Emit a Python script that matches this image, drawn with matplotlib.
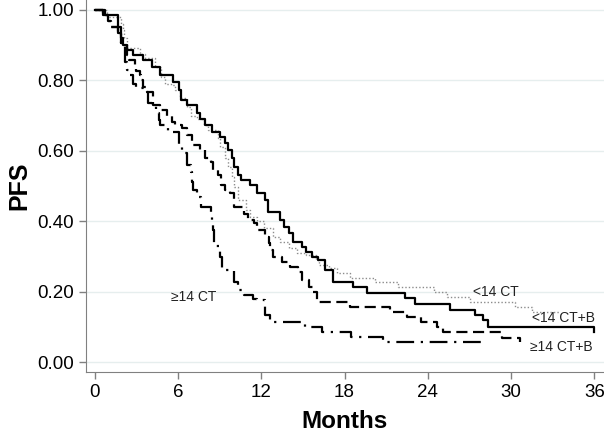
import matplotlib
matplotlib.use('Agg')
import matplotlib.pyplot as plt

plt.rcParams['font.family'] = ['Liberation Sans', 'DejaVu Sans']

# <14 CT+B (solid)
t_ctb = [0, 0.77, 1.68, 1.92, 2.01, 2.30, 2.78, 3.45, 4.12, 4.70, 5.65, 6.04,
         6.23, 6.61, 7.38, 7.57, 7.95, 8.43, 9.01, 9.39, 9.58, 9.87, 10.06,
         10.35, 10.54, 11.21, 11.69, 12.26, 12.46, 13.32, 13.61, 13.99, 14.28,
         14.95, 15.24, 15.62, 16.10, 16.58, 17.15, 18.59, 19.64, 22.33, 23.09,
         25.58, 27.40, 27.98, 28.36, 36.0]
s_ctb = [1.0, 0.985, 0.95, 0.92, 0.90, 0.886, 0.872, 0.858, 0.839, 0.815,
         0.796, 0.773, 0.744, 0.73, 0.706, 0.69, 0.673, 0.654, 0.64, 0.621,
         0.602, 0.579, 0.555, 0.531, 0.517, 0.503, 0.48, 0.46, 0.425, 0.403,
         0.384, 0.366, 0.342, 0.328, 0.313, 0.299, 0.29, 0.261, 0.228, 0.214,
         0.197, 0.182, 0.165, 0.148, 0.134, 0.12, 0.10, 0.085]

# <14 CT (dotted)
t_ct = [0, 0.86, 1.92, 2.01, 2.11, 2.30, 3.26, 3.64, 4.31, 4.79, 5.08, 5.56,
        5.75, 6.13, 6.61, 6.90, 7.38, 7.86, 8.14, 8.91, 9.01, 9.39, 9.58,
        9.87, 10.06, 10.35, 10.92, 11.21, 11.69, 12.17, 12.84, 13.32, 13.99,
        14.56, 15.24, 15.91, 16.19, 16.86, 17.44, 18.40, 20.22, 21.85, 24.43,
        25.39, 27.02, 30.28, 31.52, 33.54]
s_ct = [1.0, 0.98, 0.96, 0.943, 0.92, 0.891, 0.876, 0.862, 0.839, 0.81, 0.79,
        0.787, 0.773, 0.75, 0.725, 0.70, 0.69, 0.673, 0.659, 0.635, 0.612,
        0.579, 0.555, 0.526, 0.498, 0.46, 0.432, 0.413, 0.40, 0.38, 0.356,
        0.342, 0.323, 0.309, 0.304, 0.29, 0.276, 0.266, 0.252, 0.238, 0.228,
        0.214, 0.20, 0.186, 0.171, 0.155, 0.142, 0.142]

# >=14 CT+B (dashed)
t_hctb = [0, 0.57, 0.96, 1.20, 1.68, 1.92, 2.30, 2.49, 2.87, 2.97, 3.26, 3.35,
          3.45, 3.74, 4.22, 4.70, 5.17, 5.56, 5.75, 6.32, 6.61, 6.99, 7.57,
          7.95, 8.34, 8.53, 8.91, 9.10, 9.39, 9.77, 10.06, 10.73, 11.02, 11.50,
          11.69, 12.26, 12.55, 12.65, 12.84, 13.51, 14.09, 14.66, 14.95, 15.43,
          15.71, 16.00, 18.40, 21.27, 22.52, 23.48, 24.63, 25.10, 29.32, 30.66]
s_hctb = [1.0, 0.985, 0.967, 0.952, 0.935, 0.905, 0.872, 0.858, 0.844, 0.825,
          0.815, 0.80, 0.782, 0.768, 0.73, 0.716, 0.70, 0.683, 0.673, 0.664,
          0.645, 0.616, 0.602, 0.579, 0.569, 0.545, 0.531, 0.503, 0.489,
          0.479, 0.44, 0.42, 0.403, 0.394, 0.375, 0.356, 0.337, 0.318, 0.299,
          0.285, 0.271, 0.256, 0.233, 0.214, 0.20, 0.171, 0.157, 0.143, 0.129,
          0.114, 0.10, 0.086, 0.067, 0.056]

# >=14 CT (dash-dot)
t_hct = [0, 0.57, 0.96, 1.20, 1.68, 1.92, 2.20, 2.30, 2.49, 2.78, 2.97, 3.26,
         3.64, 3.83, 4.12, 4.41, 4.60, 4.70, 5.27, 6.04, 6.32, 6.61, 6.90,
         6.99, 7.09, 7.38, 7.67, 8.34, 8.43, 8.53, 8.62, 9.01, 9.20, 10.06,
         10.35, 10.73, 11.40, 11.69, 12.26, 12.65, 15.14, 16.39, 18.49, 20.79,
         27.98]
s_hct = [1.0, 0.985, 0.967, 0.952, 0.935, 0.905, 0.853, 0.83, 0.815, 0.79,
         0.782, 0.777, 0.768, 0.735, 0.73, 0.706, 0.687, 0.673, 0.654, 0.612,
         0.593, 0.56, 0.54, 0.512, 0.489, 0.47, 0.441, 0.427, 0.403, 0.375,
         0.33, 0.299, 0.26, 0.228, 0.205, 0.19, 0.18, 0.176, 0.133, 0.114,
         0.10, 0.086, 0.072, 0.058, 0.045]

x_ticks = [0, 6, 12, 18, 24, 30, 36]
y_ticks = [0.0, 0.2, 0.4, 0.6, 0.8, 1.0]

fig = plt.figure(figsize=(6.04, 4.36), dpi=100)
ax = fig.add_axes([0.142, 0.147, 0.858, 0.853])

for y in y_ticks:
    ax.axhline(y, color='#e6eeee', lw=1, zorder=0)

ax.step(t_ct, s_ct, where='post', color='#8c8c8c', lw=1.0,
        ls=(0, (1, 1.5)))
ax.step(t_ctb, s_ctb, where='post', color='black', lw=1.6)
ax.step(t_hctb, s_hctb, where='post', color='black', lw=1.6,
        ls=(0, (5, 2.5)))
ax.step(t_hct, s_hct, where='post', color='black', lw=1.6,
        ls=(0, (8, 3, 1, 3)))

ax.text(27.27, 0.199, '<14 CT', fontsize=10, va='center', color='#222222')
ax.text(31.53, 0.124, '<14 CT+B', fontsize=10, va='center', color='#222222')
ax.text(31.39, 0.043, '\u226514 CT+B', fontsize=10, va='center',
        color='#222222')
ax.text(5.48, 0.185, '\u226514 CT', fontsize=10, va='center',
        color='#222222')

ax.set_xlim(-0.65, 36.7)
ax.set_ylim(-0.028, 1.028)
ax.set_xticks(x_ticks)
ax.set_xticklabels([str(v) for v in x_ticks])
ax.set_yticks(y_ticks)
ax.set_yticklabels(['%.2f' % v for v in y_ticks])
ax.tick_params(labelsize=13.5, colors='#808080', labelcolor='black',
               length=5, width=1)
for side in ['top', 'right']:
    ax.spines[side].set_visible(False)
for side in ['left', 'bottom']:
    ax.spines[side].set_color('#808080')
ax.set_xlabel('Months', fontsize=17.5, fontweight='bold')
ax.xaxis.set_label_coords(0.5, -0.103, transform=ax.transAxes)
ax.xaxis.label.set_va('top')
ax.set_ylabel('PFS', fontsize=18, fontweight='bold', labelpad=4)

plt.savefig('out.png', dpi=100)
plt.close('all')
